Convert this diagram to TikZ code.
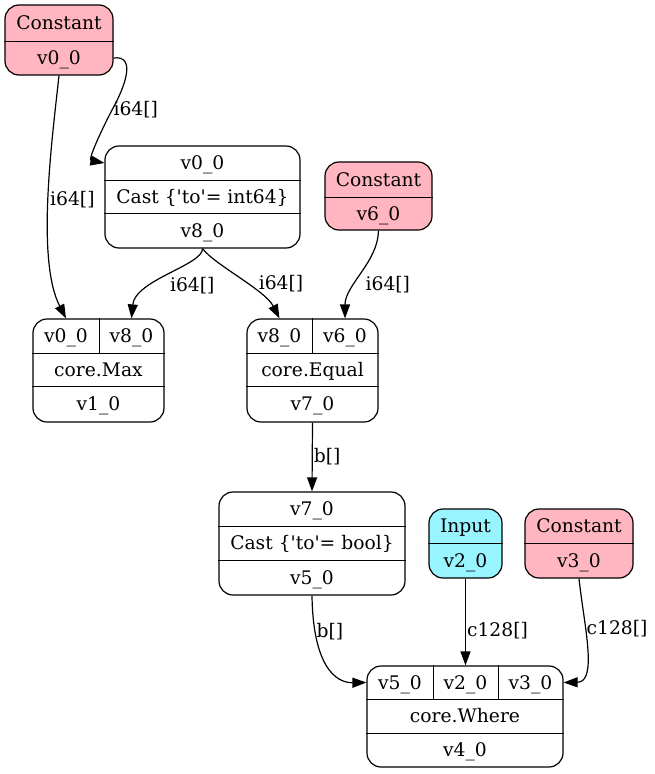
\documentclass[tikz,border=0pt]{standalone}
\usepackage{fontspec}
\setmainfont{DejaVu Serif}
\usepackage{xcolor}
\usepackage{tikz}
\usetikzlibrary{arrows.meta}
\definecolor{constpink}{HTML}{FFB6C1}
\definecolor{inputcyan}{HTML}{98F5FF}
\newcommand{\q}{\textquotesingle}
\tikzstyle{every node}=[font=\fontsize{18.7}{22}\selectfont]
\tikzstyle{rec}=[draw, rounded corners=14pt, inner sep=0pt]
\tikzstyle{cell}=[inner sep=0pt, text height=16pt, text depth=2.5pt]
\tikzstyle{lab}=[inner sep=1pt]

\begin{document}
\begin{tikzpicture}[x=1pt, y=-1pt, line width=1.2pt, >={Triangle[length=14pt,width=10pt]}]
            \useasboundingbox (0,0) rectangle (654,774);

            \node [rec, fill=constpink, minimum width=108pt, minimum height=70pt] (const0) at (59,40) {};
            \node [cell, minimum width=108pt, minimum height=36pt] (const0-op) at (59,23) {Constant};
            \node [cell, minimum width=108pt, minimum height=34pt] (const0-out) at (59,58) {v0\_0};
            \draw (const0-op.south west) -- (const0-op.south east);

            \node [rec, minimum width=195pt, minimum height=102pt] (cast8) at (202.5,197) {};
            \node [cell, minimum width=195pt, minimum height=34pt] (cast8-in) at (202.5,163) {v0\_0};
            \node [cell, minimum width=195pt, minimum height=33pt] (cast8-op) at (202.5,196.5) {Cast \{\q to\q = int64\}};
            \node [cell, minimum width=195pt, minimum height=35pt] (cast8-out) at (202.5,230.5) {v8\_0};
            \draw (cast8-in.south west) -- (cast8-in.south east);
            \draw (cast8-op.south west) -- (cast8-op.south east);

            \node [rec, fill=constpink, minimum width=107pt, minimum height=68pt] (const6) at (378.5,196) {};
            \node [cell, minimum width=107pt, minimum height=35pt] (const6-op) at (378.5,179.5) {Constant};
            \node [cell, minimum width=107pt, minimum height=33pt] (const6-out) at (378.5,213.5) {v6\_0};
            \draw (const6-op.south west) -- (const6-op.south east);

            \node [rec, minimum width=131pt, minimum height=103pt] (max1) at (98.5,370.5) {};
            \node [cell, minimum width=66pt, minimum height=34pt] (max1-in1) at (66,336) {v0\_0};
            \node [cell, minimum width=65pt, minimum height=34pt] (max1-in2) at (131.5,336) {v8\_0};
            \node [cell, minimum width=131pt, minimum height=33pt] (max1-op) at (98.5,369.5) {core.Max};
            \node [cell, minimum width=131pt, minimum height=36pt] (max1-out) at (98.5,404) {v1\_0};
            \draw (max1-in1.north east) -- (max1-in1.south east);
            \draw (max1-in1.south west) -- (max1-in2.south east);
            \draw (max1-op.south west) -- (max1-op.south east);

            \node [rec, minimum width=131pt, minimum height=103pt] (equal7) at (312.5,370.5) {};
            \node [cell, minimum width=65pt, minimum height=34pt] (equal7-in1) at (279.5,336) {v8\_0};
            \node [cell, minimum width=66pt, minimum height=34pt] (equal7-in2) at (345,336) {v6\_0};
            \node [cell, minimum width=131pt, minimum height=33pt] (equal7-op) at (312.5,369.5) {core.Equal};
            \node [cell, minimum width=131pt, minimum height=36pt] (equal7-out) at (312.5,404) {v7\_0};
            \draw (equal7-in1.north east) -- (equal7-in1.south east);
            \draw (equal7-in1.south west) -- (equal7-in2.south east);
            \draw (equal7-op.south west) -- (equal7-op.south east);

            \node [rec, minimum width=186pt, minimum height=103pt] (cast5) at (312,543.5) {};
            \node [cell, minimum width=186pt, minimum height=34pt] (cast5-in) at (312,509) {v7\_0};
            \node [cell, minimum width=186pt, minimum height=34pt] (cast5-op) at (312,543) {Cast \{\q to\q = bool\}};
            \node [cell, minimum width=186pt, minimum height=35pt] (cast5-out) at (312,577.5) {v5\_0};
            \draw (cast5-in.south west) -- (cast5-in.south east);
            \draw (cast5-op.south west) -- (cast5-op.south east);

            \node [rec, fill=inputcyan, minimum width=73pt, minimum height=69pt] (input2) at (465.5,543.5) {};
            \node [cell, minimum width=73pt, minimum height=34pt] (input2-op) at (465.5,526) {Input};
            \node [cell, minimum width=73pt, minimum height=35pt] (input2-out) at (465.5,560.5) {v2\_0};
            \draw (input2-op.south west) -- (input2-op.south east);

            \node [rec, fill=constpink, minimum width=108pt, minimum height=69pt] (const3) at (579,543.5) {};
            \node [cell, minimum width=108pt, minimum height=34pt] (const3-op) at (579,526) {Constant};
            \node [cell, minimum width=108pt, minimum height=35pt] (const3-out) at (579,560.5) {v3\_0};
            \draw (const3-op.south west) -- (const3-op.south east);

            \node [rec, minimum width=196pt, minimum height=101pt] (where4) at (465,716.5) {};
            \node [cell, minimum width=66pt, minimum height=33pt] (where4-in1) at (400,682.5) {v5\_0};
            \node [cell, minimum width=65pt, minimum height=33pt] (where4-in2) at (465.5,682.5) {v2\_0};
            \node [cell, minimum width=65pt, minimum height=33pt] (where4-in3) at (530.5,682.5) {v3\_0};
            \node [cell, minimum width=196pt, minimum height=34pt] (where4-op) at (465,716) {core.Where};
            \node [cell, minimum width=196pt, minimum height=34pt] (where4-out) at (465,750) {v4\_0};
            \draw (where4-in1.north east) -- (where4-in1.south east);
            \draw (where4-in2.north east) -- (where4-in2.south east);
            \draw (where4-in1.south west) -- (where4-in3.south east);
            \draw (where4-op.south west) -- (where4-op.south east);

            \draw [->] (const0-out.south) .. controls (52,140) and (36,260) .. (max1-in1.north) node [lab, midway, anchor=west] {i64[]};
            \draw [->] (const0-out.east) .. controls (136,55) and (126,85) .. (112,110) node [lab, anchor=west] {i64[]} .. controls (100,133) and (88,160) .. (cast8-in.west);
            \draw [->] (cast8-out.south) .. controls (203,265) and (135,280) .. (max1-in2.north) node [lab, pos=.5, anchor=north west] {i64[]};
            \draw [->] (cast8-out.south) .. controls (215,265) and (265,290) .. (equal7-in1.north) node [lab, pos=.5, anchor=west, xshift=17pt, yshift=-5pt] {i64[]};
            \draw [->] (const6-out.south) .. controls (378,262) and (345,285) .. (equal7-in2.north) node [lab, pos=.55, anchor=west, xshift=5pt, yshift=-7pt] {i64[]};
            \draw [->] (equal7-out.south) -- (cast5-in.north) node [lab, midway, anchor=west] {b[]};
            \draw [->] (cast5-out.south) .. controls (313,665) and (335,683) .. (where4-in1.west) node [lab, pos=.2, anchor=west] {b[]};
            \draw [->] (input2-out.south) -- (where4-in2.north) node [lab, pos=.6, anchor=west] {c128[]};
            \draw [->] (const3-out.south) .. controls (584,625) and (598,682) .. (where4-in3.east) node [lab, pos=.35, anchor=west] {c128[]};
        \end{tikzpicture}
\end{document}
